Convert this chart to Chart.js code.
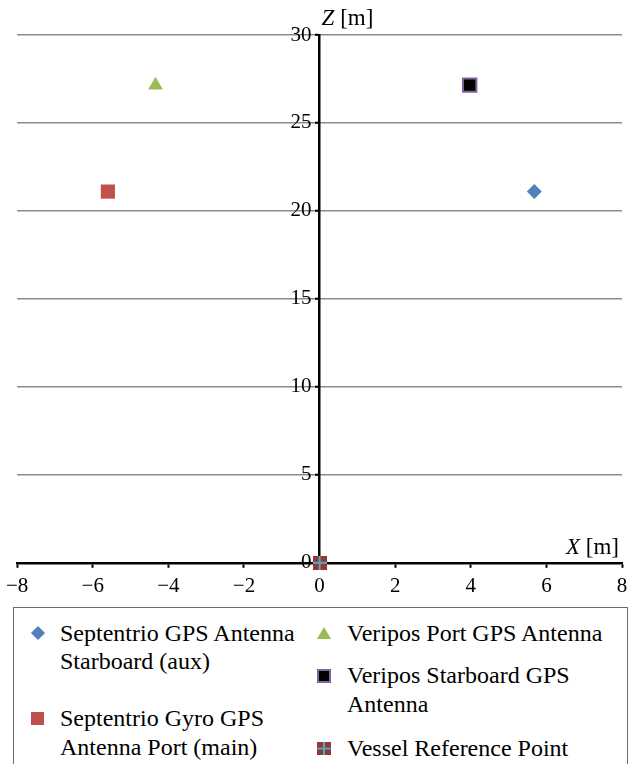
<!DOCTYPE html>
<html lang="en">
<head>
<meta charset="UTF-8">
<title>Antenna positions</title>
<script src="https://cdn.jsdelivr.net/npm/chart.js"></script>
<style>
  body { margin: 0; background: white; font-family: "Liberation Serif", serif; }
  .wrap { position: relative; width: 637px; height: 764px; overflow: hidden; }
  canvas { position: absolute; left: 0; top: 0; }
  .legend { position: absolute; left: 13px; top: 607px; width: 615px; height: 200px;
            border: 1px solid #6b6b6b; box-sizing: border-box; background: white; }
  .item { position: absolute; font-size: 24px; line-height: 28.5px; color: #000; white-space: nowrap; }
  .mk { position: absolute; box-sizing: border-box; }
</style>
</head>
<body>
<div class="wrap">
  <canvas id="chart" width="637" height="609"></canvas>
  <div class="legend" id="legend"></div>
</div>
<script>
// data
const seriesNames = [
  "Septentrio GPS Antenna Starboard (aux)",
  "Septentrio Gyro GPS Antenna Port (main)",
  "Veripos Port GPS Antenna",
  "Veripos Starboard GPS Antenna",
  "Vessel Reference Point"
];
const pointX = [5.68, -5.6, -4.34, 3.97, 0];
const pointZ = [21.1, 21.1, 27.15, 27.15, 0];
const xTicks = [-8, -6, -4, -2, 0, 2, 4, 6, 8];
const zTicks = [0, 5, 10, 15, 20, 25, 30];

const FONT = "'Liberation Serif', 'Times New Roman', serif";
Chart.defaults.font.family = FONT;

// marker for the vessel reference point: dark red square with cyan cross
const vesselMark = document.createElement("canvas");
vesselMark.width = 14; vesselMark.height = 14;
(function () {
  const c = vesselMark.getContext("2d");
  c.fillStyle = "#953735";
  c.fillRect(0, 0, 14, 14);
  c.fillStyle = "#4bacc6";
  c.fillRect(6, 0, 2, 14);
  c.fillRect(0, 6, 14, 2);
})();

const styles = [
  { pointStyle: "rectRot", radius: 7.5, bg: "#4f81bd", border: "#4f81bd", bw: 0 },
  { pointStyle: "rect", radius: 10, bg: "#c0504d", border: "#c0504d", bw: 0 },
  { pointStyle: "triangle", radius: 8.5, bg: "#9bbb59", border: "#9bbb59", bw: 0 },
  { pointStyle: "rect", radius: 9.5, bg: "#000000", border: "#8064a2", bw: 2 },
  { pointStyle: vesselMark, radius: 7, bg: "#953735", border: "#953735", bw: 0 }
];

const datasets = seriesNames.map((name, i) => ({
  label: name,
  data: [{ x: pointX[i], y: pointZ[i] }],
  pointStyle: styles[i].pointStyle,
  pointRadius: styles[i].radius,
  pointHoverRadius: styles[i].radius,
  backgroundColor: styles[i].bg,
  borderColor: styles[i].border,
  borderWidth: styles[i].bw,
  showLine: false,
  clip: false
}));

const minus = (v) => (v < 0 ? "\u2212" + Math.abs(v) : String(v));

// axis titles placed like the original: Z at top of the vertical axis, X at right end
const axisTitles = {
  id: "axisTitles",
  afterDraw(chart) {
    const ctx = chart.ctx;
    const xs = chart.scales.x, ys = chart.scales.y;
    const x0 = xs.getPixelForValue(0);
    ctx.save();
    ctx.fillStyle = "#000";
    ctx.textBaseline = "alphabetic";
    ctx.textAlign = "left";
    ctx.font = "italic 23px " + FONT;
    ctx.fillText("Z", x0 + 2, ys.top - 10);
    const w = ctx.measureText("Z").width;
    ctx.font = "23px " + FONT;
    ctx.fillText(" [m]", x0 + 2 + w, ys.top - 10);

    const t = " [m]";
    const tw = ctx.measureText(t).width;
    const right = chart.chartArea.right - 3;
    ctx.fillText(t, right - tw, ys.bottom - 9);
    ctx.font = "italic 23px " + FONT;
    ctx.textAlign = "right";
    ctx.fillText("X", right - tw, ys.bottom - 9);
    ctx.restore();
  }
};

new Chart(document.getElementById("chart").getContext("2d"), {
  type: "scatter",
  data: { datasets },
  plugins: [axisTitles],
  options: {
    responsive: false,
    animation: false,
    layout: { padding: { left: 16, right: 15, top: 35, bottom: 4 } },
    plugins: { legend: { display: false }, tooltip: { enabled: false } },
    scales: {
      x: {
        type: "linear",
        position: "bottom",
        min: -8, max: 8,
        afterBuildTicks: (s) => { s.ticks = xTicks.map((v) => ({ value: v })); },
        ticks: { color: "#000", font: { family: FONT, size: 21 }, padding: 6,
                 callback: (v) => minus(v), maxRotation: 0 },
        grid: { drawOnChartArea: false, drawTicks: true, tickLength: 5, tickColor: "#000", tickWidth: 2 },
        border: { color: "#000", width: 2.5 }
      },
      y: {
        type: "linear",
        position: "center",
        min: 0, max: 30,
        afterBuildTicks: (s) => { s.ticks = zTicks.map((v) => ({ value: v })); },
        afterFit: (s) => { s.width = 0; },
        ticks: { color: "#000", font: { family: FONT, size: 21 }, padding: 5 },
        grid: { color: "#8c8c8c", lineWidth: 1.5, drawTicks: true, tickLength: 3,
                tickColor: "#000", tickWidth: 2 },
        border: { color: "#000", width: 2.5 }
      }
    }
  }
});

// legend: two columns, wrapped text like the original
const legendPos = [
  { left: 46, top: 10.5, mx: 23.5, lines: ["Septentrio GPS Antenna", "Starboard (aux)"] },
  { left: 46, top: 96, mx: 23.5, lines: ["Septentrio Gyro GPS", "Antenna Port (main)"] },
  { left: 333, top: 10.5, mx: 310, lines: ["Veripos Port GPS Antenna"] },
  { left: 333, top: 53, mx: 310, lines: ["Veripos Starboard GPS", "Antenna"] },
  { left: 333, top: 126, mx: 310, lines: ["Vessel Reference Point"] }
];
const legendEl = document.getElementById("legend");
legendPos.forEach((p, i) => {
  const mk = document.createElement("div");
  mk.className = "mk";
  const cx = p.mx, cy = p.top + 14.5;
  if (i === 0) {
    Object.assign(mk.style, { left: cx - 5 + "px", top: cy - 5 + "px", width: "10px", height: "10px",
      background: styles[0].bg, transform: "rotate(45deg)" });
  } else if (i === 2) {
    Object.assign(mk.style, { left: cx - 7 + "px", top: cy - 6 + "px", width: 0, height: 0,
      borderLeft: "7px solid transparent", borderRight: "7px solid transparent",
      borderBottom: "12px solid " + styles[2].bg });
  } else if (i === 4) {
    const img = vesselMark.cloneNode();
    img.getContext("2d").drawImage(vesselMark, 0, 0);
    img.style.width = "14px"; img.style.height = "13px"; img.style.position = "absolute";
    mk.appendChild(img);
    Object.assign(mk.style, { left: cx - 7 + "px", top: cy - 6.5 + "px", width: "14px", height: "13px" });
  } else {
    const s = i === 3 ? 14 : 13;
    Object.assign(mk.style, { left: cx - s / 2 + "px", top: cy - s / 2 + "px", width: s + "px", height: s + "px",
      background: styles[i].bg, border: styles[i].bw ? "2px solid " + styles[i].border : "none" });
  }
  legendEl.appendChild(mk);
  const t = document.createElement("div");
  t.className = "item";
  t.style.left = p.left + "px";
  t.style.top = p.top + "px";
  t.innerHTML = p.lines.join("<br>");
  legendEl.appendChild(t);
});
</script>
</body>
</html>
